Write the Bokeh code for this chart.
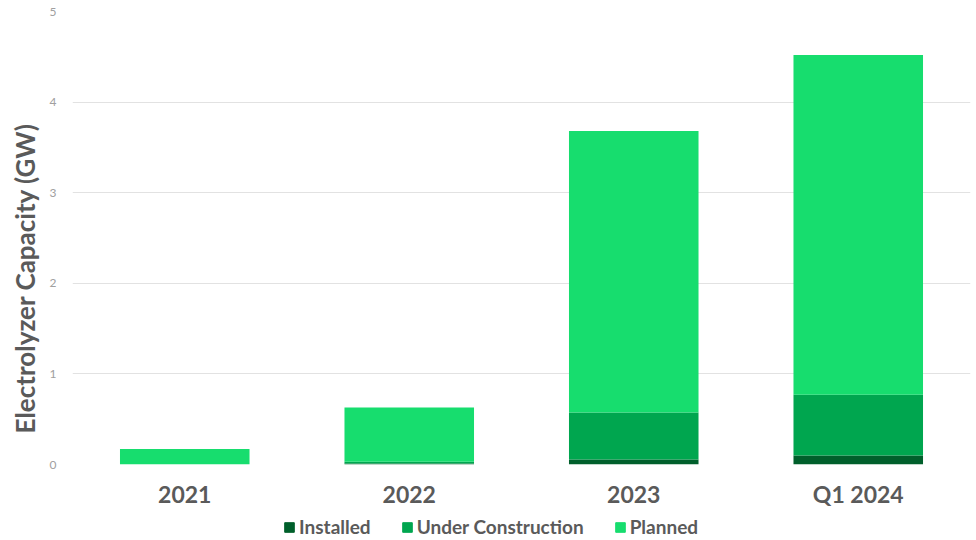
from bokeh.plotting import figure
from bokeh.layouts import column
from bokeh.models import Legend, LegendItem, Title, FixedTicker
from bokeh.embed import file_html
from bokeh.resources import INLINE

categories = ["2021", "2022", "2023", "Q1 2024"]
installed = [0.0, 0.01, 0.055, 0.10]
under_construction = [0.0, 0.02, 0.52, 0.67]
planned = [0.17, 0.60, 3.105, 3.75]
series = ["Installed", "Under Construction", "Planned"]
colors = ["#005f2b", "#00a64f", "#17dd6e"]
y_ticks = [0, 1, 2, 3, 4, 5]

data = dict(cat=categories, Installed=installed,
            **{"Under Construction": under_construction}, Planned=planned)

p = figure(x_range=categories, y_range=(0, 5), width=976, height=510,
           output_backend="svg", toolbar_location=None,
           min_border_left=72, min_border_right=6, min_border_top=11,
           min_border_bottom=46)
p.outline_line_color = None

rs = p.vbar_stack(series, x="cat", width=0.577, color=colors, source=data,
                  line_color=None)

p.xgrid.grid_line_color = None
p.ygrid.grid_line_color = "#e2e2e2"
p.ygrid.grid_line_width = 1

p.yaxis.ticker = FixedTicker(ticks=y_ticks)
p.yaxis.axis_line_color = None
p.yaxis.major_tick_line_color = None
p.yaxis.minor_tick_line_color = None
p.yaxis.major_label_text_font = "Lato"
p.yaxis.major_label_text_font_size = "12px"
p.yaxis.major_label_text_color = "#a0a0a0"
p.yaxis.major_label_standoff = 10

p.xaxis.axis_line_color = None
p.xaxis.major_tick_line_color = None
p.xaxis.minor_tick_line_color = None
p.xaxis.major_label_text_font = "Lato"
p.xaxis.major_label_text_font_style = "bold"
p.xaxis.major_label_text_font_size = "23px"
p.xaxis.major_label_text_color = "#5a5a5a"
p.xaxis.major_label_standoff = 9

ytitle = Title(text="Electrolyzer Capacity (GW)", align="left", offset=31,
               text_font="Lato", text_font_style="bold",
               text_font_size="26px", text_color="#5a5a5a", standoff=11)
p.add_layout(ytitle, "left")

# legend strip below the chart
lg = figure(width=976, height=30, x_range=(0, 1), y_range=(0, 1),
            output_backend="svg", toolbar_location=None,
            min_border_left=0, min_border_right=0, min_border_top=0,
            min_border_bottom=0)
lg.axis.visible = False
lg.grid.grid_line_color = None
lg.outline_line_color = None
dummies = [lg.vbar(x=[-5], top=[-5], bottom=[-6], width=0.1, color=c) for c in colors]

legend = Legend(items=[LegendItem(label=s, renderers=[r]) for s, r in zip(series, dummies)],
                orientation="horizontal", location=(211, 2),
                label_text_font="Lato", label_text_font_style="bold",
                label_text_font_size="19px", label_text_color="#5a5a5a",
                glyph_width=12, glyph_height=12, label_standoff=4, spacing=30,
                border_line_color=None, background_fill_alpha=0,
                padding=0, margin=0)
lg.add_layout(legend)

open("out.html", "w").write(file_html(column(p, lg), INLINE))
